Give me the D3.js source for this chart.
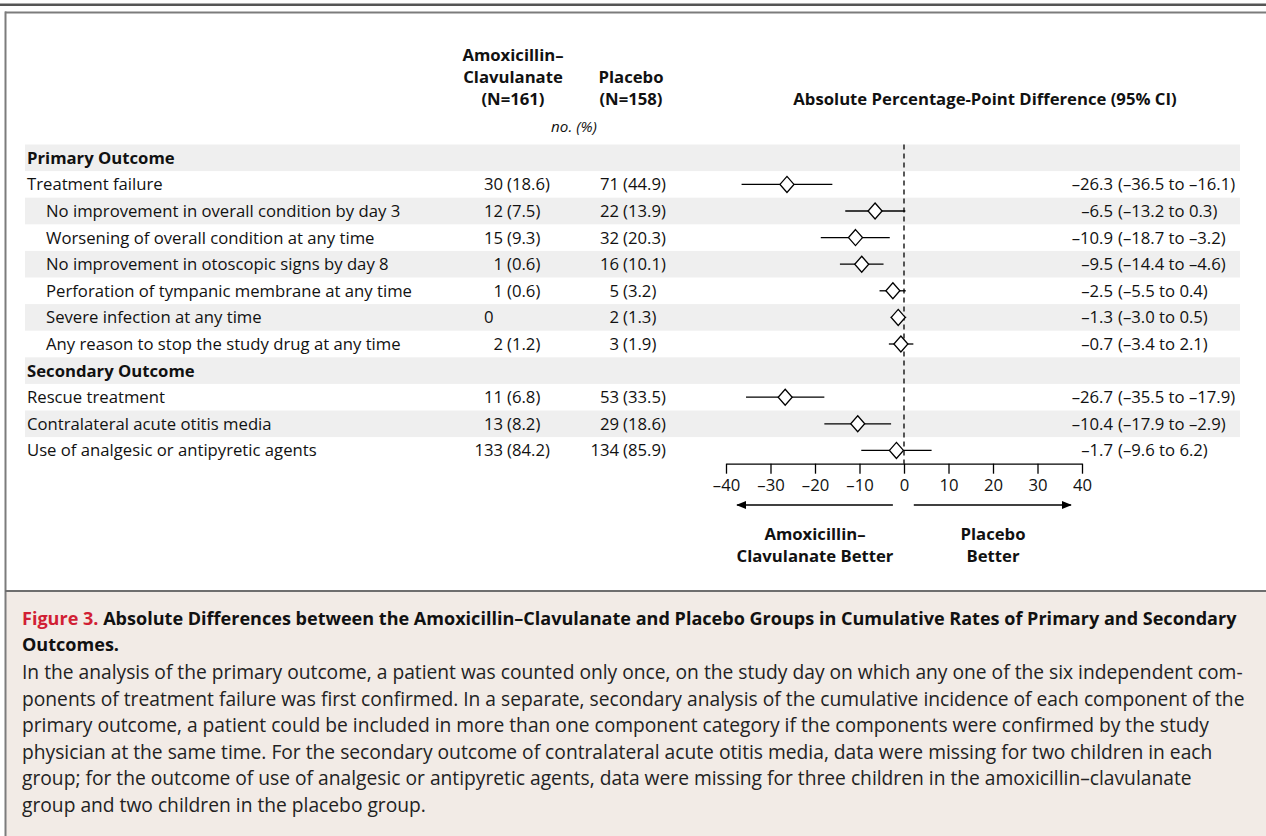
<!DOCTYPE html>
<html>
<head>
<meta charset="utf-8">
<script src="https://cdn.jsdelivr.net/npm/d3@7"></script>
<style>
  body { margin: 0; background: #fff; }
  svg { display: block; font-family: "Open Sans", Lato, sans-serif; }
</style>
</head>
<body>
<div id="chart"></div>
<script>
// table rows (section headers carry no values)
const rowLabels = [
  "Primary Outcome",
  "Treatment failure",
  "No improvement in overall condition by day 3",
  "Worsening of overall condition at any time",
  "No improvement in otoscopic signs by day 8",
  "Perforation of tympanic membrane at any time",
  "Severe infection at any time",
  "Any reason to stop the study drug at any time",
  "Secondary Outcome",
  "Rescue treatment",
  "Contralateral acute otitis media",
  "Use of analgesic or antipyretic agents"
];
const rowKind = ["header", "main", "sub", "sub", "sub", "sub", "sub", "sub", "header", "main", "main", "main"];

const amoxCount    = [null, 30, 12, 15, 1, 1, 0, 2, null, 11, 13, 133];
const amoxPct      = [null, 18.6, 7.5, 9.3, 0.6, 0.6, null, 1.2, null, 6.8, 8.2, 84.2];
const placeboCount = [null, 71, 22, 32, 16, 5, 2, 3, null, 53, 29, 134];
const placeboPct   = [null, 44.9, 13.9, 20.3, 10.1, 3.2, 1.3, 1.9, null, 33.5, 18.6, 85.9];

const diffPoint = [null, -26.3, -6.5, -10.9, -9.5, -2.5, -1.3, -0.7, null, -26.7, -10.4, -1.7];
const diffLow   = [null, -36.5, -13.2, -18.7, -14.4, -5.5, -3.0, -3.4, null, -35.5, -17.9, -9.6];
const diffHigh  = [null, -16.1, 0.3, -3.2, -4.6, 0.4, 0.5, 2.1, null, -17.9, -2.9, 6.2];

const xTicks = [-40, -30, -20, -10, 0, 10, 20, 30, 40];

const captionTitle = ["Absolute Differences between the Amoxicillin\u2013Clavulanate and Placebo Groups in Cumulative Rates of Primary and Secondary",
  "Outcomes."];
const captionBody = [
  "In the analysis of the primary outcome, a patient was counted only once, on the study day on which any one of the six independent com-",
  "ponents of treatment failure was first confirmed. In a separate, secondary analysis of the cumulative incidence of each component of the",
  "primary outcome, a patient could be included in more than one component category if the components were confirmed by the study",
  "physician at the same time. For the secondary outcome of contralateral acute otitis media, data were missing for two children in each",
  "group; for the outcome of use of analgesic or antipyretic agents, data were missing for three children in the amoxicillin\u2013clavulanate",
  "group and two children in the placebo group."
];

const W = 1266, H = 836;
const fs = 16.7;
const dash = "\u2013";
const fmt = v => (v < 0 ? dash + Math.abs(v).toFixed(1) : v.toFixed(1));

const svg = d3.select("#chart").append("svg")
    .attr("width", W).attr("height", H)
    .attr("viewBox", [0, 0, W, H]);

// frame
svg.append("rect").attr("x", 0).attr("y", 3.5).attr("width", W).attr("height", 2.5).attr("fill", "#555");
svg.append("rect").attr("x", 6).attr("y", 591).attr("width", W - 6).attr("height", H - 591).attr("fill", "#f2ebe6");
svg.append("rect").attr("x", 5).attr("y", 11.5).attr("width", W - 5).attr("height", 2).attr("fill", "#7c7c7c");
svg.append("rect").attr("x", 4.5).attr("y", 11.5).attr("width", 2).attr("height", H - 11.5).attr("fill", "#7c7c7c");
svg.append("rect").attr("x", 5).attr("y", 590).attr("width", W - 5).attr("height", 2).attr("fill", "#6e6e6e");

// scales
const rows = d3.range(rowLabels.length);
const y = d3.scaleBand().domain(rows).range([144.5, 144.5 + 26.6 * rows.length]);
const x = d3.scaleLinear().domain([-40, 40]).range([726, 1082]);
const rowMid = i => y(i) + y.bandwidth() / 2;

// zebra bands
svg.append("g").selectAll("rect")
  .data(rows.filter(i => i % 2 === 0))
  .join("rect")
    .attr("x", 25).attr("width", 1240 - 25)
    .attr("y", i => y(i)).attr("height", y.bandwidth())
    .attr("fill", "#efefef");

// column headers
const head = svg.append("g").attr("font-size", fs).attr("font-weight", "bold").attr("fill", "#111").attr("text-anchor", "middle");
[["Amoxicillin" + dash, 61], ["Clavulanate", 83], ["(N=161)", 105]].forEach(([t, yy]) =>
  head.append("text").attr("x", 513).attr("y", yy).text(t));
[["Placebo", 83], ["(N=158)", 105]].forEach(([t, yy]) =>
  head.append("text").attr("x", 631).attr("y", yy).text(t));
head.append("text").attr("x", 985).attr("y", 105).text("Absolute Percentage-Point Difference (95% CI)");
svg.append("text").attr("x", 574).attr("y", 132).attr("font-size", fs - 1.5).attr("font-style", "italic")
  .attr("text-anchor", "middle").attr("fill", "#111").text("no. (%)");

// row labels
svg.append("g").attr("font-size", fs).attr("fill", "#111")
  .selectAll("text").data(rows).join("text")
    .attr("x", i => rowKind[i] === "sub" ? 46 : 27)
    .attr("y", i => rowMid(i)).attr("dy", "0.36em")
    .attr("font-weight", i => rowKind[i] === "header" ? "bold" : null)
    .text(i => rowLabels[i]);

// count (pct) columns, aligned on the parenthesis
function countColumn(counts, pcts, parenX) {
  const g = svg.append("g").attr("font-size", fs).attr("fill", "#111");
  const data = rows.filter(i => counts[i] !== null);
  g.selectAll("text.n").data(data).join("text")
    .attr("class", "n")
    .attr("x", i => pcts[i] === null ? parenX - 23 : parenX - 4)
    .attr("text-anchor", i => pcts[i] === null ? "start" : "end")
    .attr("y", i => rowMid(i)).attr("dy", "0.36em")
    .text(i => counts[i]);
  g.selectAll("text.p").data(data.filter(i => pcts[i] !== null)).join("text")
    .attr("class", "p")
    .attr("x", parenX)
    .attr("y", i => rowMid(i)).attr("dy", "0.36em")
    .text(i => "(" + pcts[i].toFixed(1) + ")");
}
countColumn(amoxCount, amoxPct, 507);
countColumn(placeboCount, placeboPct, 623);

// difference text column
const est = rows.filter(i => diffPoint[i] !== null);
const dt = svg.append("g").attr("font-size", fs).attr("fill", "#111");
dt.selectAll("text.e").data(est).join("text").attr("class", "e")
  .attr("x", 1113).attr("text-anchor", "end")
  .attr("y", i => rowMid(i)).attr("dy", "0.36em")
  .text(i => fmt(diffPoint[i]));
dt.selectAll("text.c").data(est).join("text").attr("class", "c")
  .attr("x", 1118)
  .attr("y", i => rowMid(i)).attr("dy", "0.36em")
  .text(i => "(" + fmt(diffLow[i]) + " to " + fmt(diffHigh[i]) + ")");

// zero reference line
const axisY = y.range()[1];
svg.append("line")
  .attr("x1", x(0)).attr("x2", x(0))
  .attr("y1", y.range()[0]).attr("y2", axisY)
  .attr("stroke", "#000").attr("stroke-width", 1.3).attr("stroke-dasharray", "5,4");

// CIs and diamonds
const marks = svg.append("g");
marks.selectAll("line").data(est).join("line")
  .attr("x1", i => x(diffLow[i])).attr("x2", i => x(diffHigh[i]))
  .attr("y1", i => rowMid(i)).attr("y2", i => rowMid(i))
  .attr("stroke", "#000").attr("stroke-width", 1.3);
marks.selectAll("path").data(est).join("path")
  .attr("transform", i => `translate(${x(diffPoint[i])},${rowMid(i)})`)
  .attr("d", "M0,-8L7,0L0,8L-7,0Z")
  .attr("fill", "#fff").attr("stroke", "#000").attr("stroke-width", 1.3);

// axis
svg.append("g")
  .attr("transform", `translate(0,${axisY})`)
  .call(d3.axisBottom(x).tickValues(xTicks).tickSize(10).tickSizeOuter(0).tickPadding(5)
    .tickFormat(d => d < 0 ? dash + (-d) : d))
  .call(g => g.select(".domain").attr("stroke-width", 1.3))
  .call(g => g.selectAll(".tick line").attr("stroke-width", 1.3))
  .call(g => g.selectAll(".tick text").attr("font-size", fs).attr("font-family", "'Open Sans', sans-serif").attr("fill", "#111"));

// direction arrows
svg.append("defs").append("marker")
  .attr("id", "arrow").attr("viewBox", "0 0 10 8")
  .attr("refX", 9).attr("refY", 4)
  .attr("markerWidth", 10).attr("markerHeight", 8)
  .attr("markerUnits", "userSpaceOnUse")
  .attr("orient", "auto")
  .append("path").attr("d", "M0,0L10,4L0,8Z").attr("fill", "#000");
const arrowY = 505;
[[-2.5, -37.5], [2.2, 37.5]].forEach(([a, b]) =>
  svg.append("line")
    .attr("x1", x(a)).attr("x2", x(b)).attr("y1", arrowY).attr("y2", arrowY)
    .attr("stroke", "#000").attr("stroke-width", 1.3)
    .attr("marker-end", "url(#arrow)"));

const dir = svg.append("g").attr("font-size", fs).attr("font-weight", "bold").attr("fill", "#111").attr("text-anchor", "middle");
dir.append("text").attr("x", x(-20)).attr("y", 540).text("Amoxicillin" + dash);
dir.append("text").attr("x", x(-20)).attr("y", 562).text("Clavulanate Better");
dir.append("text").attr("x", x(20)).attr("y", 540).text("Placebo");
dir.append("text").attr("x", x(20)).attr("y", 562).text("Better");

// caption: size fitted so the first full lines span the caption width
const cap = svg.append("g").attr("font-size", 17);
const t1 = cap.append("text").attr("x", 22).attr("y", 625).attr("font-weight", "bold").attr("fill", "#111");
t1.append("tspan").attr("fill", "#d11f34").text("Figure 3. ");
t1.append("tspan").text(captionTitle[0]);
const t2 = cap.append("text").attr("x", 22).attr("y", 651).attr("font-weight", "bold").attr("fill", "#111").text(captionTitle[1]);
const body = cap.selectAll("text.body").data(captionBody).join("text")
  .attr("class", "body")
  .attr("x", 22).attr("y", (d, i) => 679 + i * 26.6)
  .attr("fill", "#222")
  .text(d => d);

const titleSize = 17 * 1215 / t1.node().getComputedTextLength();
t1.attr("font-size", titleSize); t2.attr("font-size", titleSize);
const bodySize = 17 * 1221 / body.node().getComputedTextLength();
body.attr("font-size", bodySize);
</script>
</body>
</html>
